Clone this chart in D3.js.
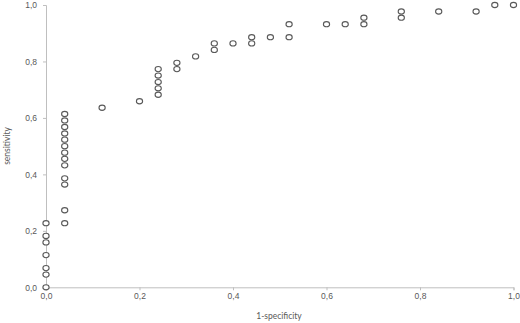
<!DOCTYPE html>
<html lang="en">
<head>
  <meta charset="UTF-8">
  <title>ROC curve</title>
  <script src="https://d3js.org/d3.v7.min.js"></script>
  <style>
    body { margin: 0; background: #fff; }
    svg { display: block; font-family: Lato, "Open Sans", sans-serif; }
    .axis path, .axis line { stroke: #bfbfbf; }
    .axis text { fill: #595959; font-size: 8.5px; }
    .marker { fill: #fff; stroke: #595959; stroke-width: 1.1px; }
  </style>
</head>
<body>
<svg width="520" height="323"></svg>
<script>
  // 1-specificity and sensitivity for each point
  const fpr = [
    0, 0, 0, 0, 0, 0, 0,
    0.04, 0.04, 0.04, 0.04, 0.04, 0.04, 0.04, 0.04, 0.04, 0.04, 0.04, 0.04, 0.04,
    0.12, 0.20,
    0.24, 0.24, 0.24, 0.24, 0.24,
    0.28, 0.28, 0.32, 0.36, 0.36, 0.40, 0.44, 0.44, 0.48, 0.52, 0.52,
    0.60, 0.64, 0.68, 0.68, 0.76, 0.76, 0.84, 0.92, 0.96, 1.00
  ];
  const tpr = [
    0, 0.045, 0.068, 0.114, 0.159, 0.182, 0.227,
    0.227, 0.273, 0.364, 0.386, 0.432, 0.455, 0.477, 0.5, 0.523, 0.545, 0.568, 0.591, 0.614,
    0.636, 0.659,
    0.682, 0.705, 0.727, 0.75, 0.773,
    0.773, 0.795, 0.818, 0.841, 0.864, 0.864, 0.864, 0.886, 0.886, 0.886, 0.932,
    0.932, 0.932, 0.932, 0.955, 0.955, 0.977, 0.977, 0.977, 1.0, 1.0
  ];
  const ticks = [0, 0.2, 0.4, 0.6, 0.8, 1.0];

  const svg = d3.select("svg");
  const x = d3.scaleLinear().domain([0, 1]).range([46, 513.5]);
  const y = d3.scaleLinear().domain([0, 1]).range([287.3, 5]);
  const fmt = d => d3.format(".1f")(d).replace(".", ",");

  svg.append("g")
    .attr("class", "axis")
    .attr("transform", "translate(0,287.3)")
    .call(d3.axisBottom(x).tickValues(ticks).tickFormat(fmt).tickSize(3).tickPadding(3));

  svg.append("g")
    .attr("class", "axis")
    .attr("transform", "translate(46,0)")
    .call(d3.axisLeft(y).tickValues(ticks).tickFormat(fmt).tickSize(3).tickPadding(6));

  // markers are a little wider than tall in the original
  svg.selectAll("ellipse.marker")
    .data(fpr)
    .join("ellipse")
    .attr("class", "marker")
    .attr("cx", d => x(d))
    .attr("cy", (d, i) => y(tpr[i]))
    .attr("rx", 3.1)
    .attr("ry", 2.6);

  svg.append("text")
    .attr("x", 279).attr("y", 319)
    .attr("text-anchor", "middle")
    .attr("fill", "#595959").attr("font-size", 8.5)
    .text("1-specificity");

  svg.append("text")
    .attr("transform", "translate(10,146) rotate(-90)")
    .attr("text-anchor", "middle")
    .attr("fill", "#595959").attr("font-size", 8.5)
    .text("sensitivity");
</script>
</body>
</html>
